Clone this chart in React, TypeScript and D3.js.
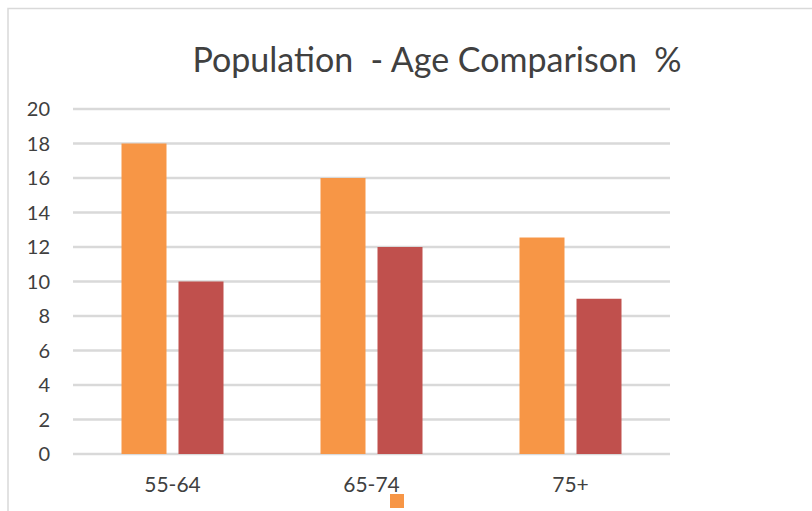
import React, { useEffect, useRef } from "react";
import * as d3 from "d3";

// Values
const categories = ["55-64", "65-74", "75+"];
const seriesA = [18, 16, 12.55]; // orange
const seriesB = [10, 12, 9]; // red
const yTicks = [0, 2, 4, 6, 8, 10, 12, 14, 16, 18, 20];

const COLORS = ["#f79646", "#c0504d"];
const FONT = "Lato, 'Open Sans', sans-serif";

const App: React.FC = () => {
    const ref = useRef<SVGSVGElement>(null);

    useEffect(() => {
        document.body.style.margin = "0";
        const svg = d3.select(ref.current);
        svg.selectAll("*").remove();

        const W = 812;
        const H = 511;
        const margin = { top: 109, right: 142, bottom: 57, left: 73 };
        const innerW = W - margin.left - margin.right;
        const innerH = H - margin.top - margin.bottom;

        svg.attr("width", W).attr("height", H);

        svg.append("rect")
            .attr("width", W)
            .attr("height", H)
            .attr("fill", "#fff");

        // chart frame (only top/left visible in the crop)
        svg.append("path")
            .attr("d", `M8,${H} V8.5 H${W}`)
            .attr("fill", "none")
            .attr("stroke", "#d9d9d9")
            .attr("stroke-width", 1.5);

        // title
        svg.append("text")
            .attr("x", 437)
            .attr("y", 72)
            .attr("text-anchor", "middle")
            .attr("font-family", FONT)
            .attr("font-size", 34)
            .attr("fill", "#404040")
            .style("white-space", "pre")
            .text("Population  - Age Comparison  %");

        const g = svg
            .append("g")
            .attr("transform", `translate(${margin.left},${margin.top})`);

        const x0 = d3.scaleBand().domain(categories).range([0, innerW]).padding(0);
        const y = d3.scaleLinear().domain([0, 20]).range([innerH, 0]);

        const barW = 45;
        const gap = 12;
        const groupW = barW * 2 + gap;

        // gridlines
        g.selectAll(".grid")
            .data(yTicks)
            .enter()
            .append("line")
            .attr("x1", 0)
            .attr("x2", innerW)
            .attr("y1", (d) => y(d))
            .attr("y2", (d) => y(d))
            .attr("stroke", "#d9d9d9")
            .attr("stroke-width", 2.5);

        // y tick labels
        g.selectAll(".ytick")
            .data(yTicks)
            .enter()
            .append("text")
            .attr("x", -23)
            .attr("y", (d) => y(d))
            .attr("dy", "0.36em")
            .attr("text-anchor", "end")
            .attr("font-family", FONT)
            .attr("font-size", 20)
            .attr("fill", "#404040")
            .text((d) => d);

        const series = [seriesA, seriesB];
        series.forEach((vals, si) => {
            g.selectAll(`.bar${si}`)
                .data(vals)
                .enter()
                .append("rect")
                .attr(
                    "x",
                    (d, i) =>
                        x0(categories[i])! +
                        (x0.bandwidth() - groupW) / 2 +
                        si * (barW + gap)
                )
                .attr("y", (d) => y(d))
                .attr("width", barW)
                .attr("height", (d) => innerH - y(d))
                .attr("fill", COLORS[si]);
        });

        // x labels
        g.selectAll(".xtick")
            .data(categories)
            .enter()
            .append("text")
            .attr("x", (d) => x0(d)! + x0.bandwidth() / 2)
            .attr("y", innerH + 38)
            .attr("text-anchor", "middle")
            .attr("font-family", FONT)
            .attr("font-size", 21)
            .attr("fill", "#404040")
            .text((d) => d);

        // legend (cut off at the bottom of the crop)
        svg.append("rect")
            .attr("x", 390)
            .attr("y", 494)
            .attr("width", 14)
            .attr("height", 14)
            .attr("fill", COLORS[0]);
    }, []);

    return <svg ref={ref} style={{ display: "block" }}></svg>;
};

export default App;
